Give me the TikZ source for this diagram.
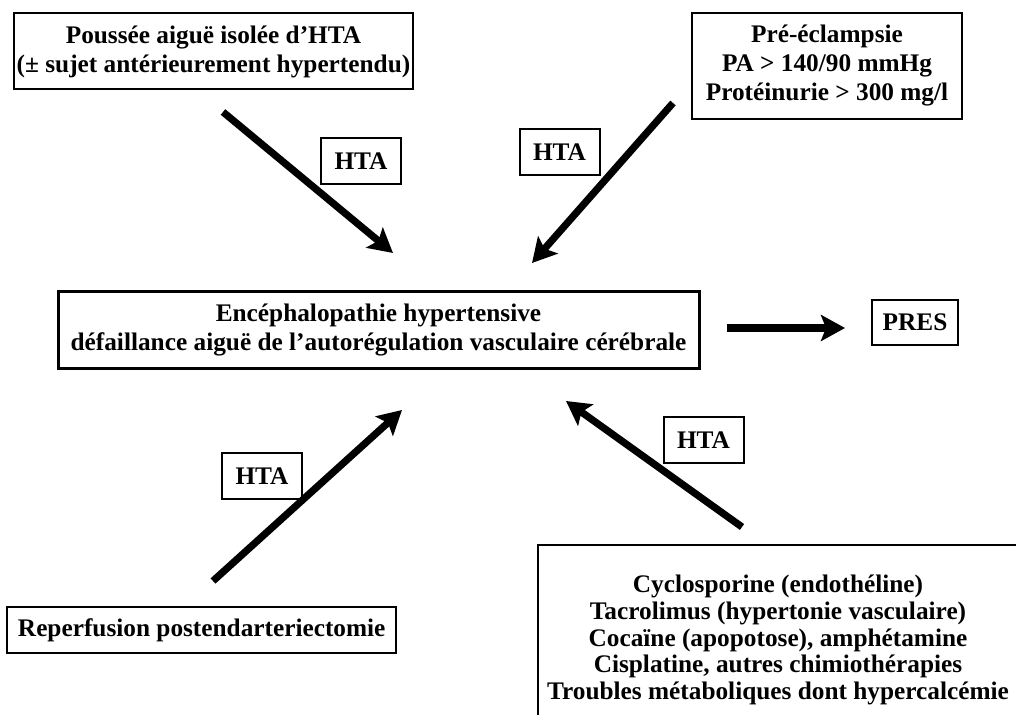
\documentclass[tikz,border=0pt]{standalone}
\usepackage{fontspec}
\setmainfont{Liberation Serif}
\usetikzlibrary{arrows.meta}
\begin{document}
\begin{tikzpicture}[x=0.5pt,y=-0.5pt,
  box/.style={draw,line width=1pt,inner sep=0pt,align=center,
    font=\bfseries\fontsize{12.65}{14.5}\selectfont},
  tightbox/.style={box,font=\bfseries\fontsize{12.65}{13.35}\selectfont},
  bigarrow/.style={line width=3.6pt,-{Stealth[length=12pt,width=13pt,inset=2.5pt]}}]
\clip (0,0) rectangle (1016,715);
\fill[white] (0,0) rectangle (1016,715);

% boxes
\node[box,minimum width=199.5pt,minimum height=38pt] (htaisol) at (213.5,51.5)
  {Poussée aiguë isolée d’HTA\\(± sujet antérieurement hypertendu)};
\node[box,minimum width=135pt,minimum height=53pt] (preecl) at (827,66)
  {Pré-éclampsie\\PA > 140/90 mmHg\\Protéinurie > 300 mg/l};
\node[box,line width=1.5pt,minimum width=320.5pt,minimum height=38.5pt] (enceph) at (378.5,330.5)
  {Encéphalopathie hypertensive\\défaillance aiguë de l’autorégulation vasculaire cérébrale};
\node[box,minimum width=43pt,minimum height=22.5pt] (pres) at (915,322.5) {PRES};
\node[box,anchor=west,inner xsep=5.5pt,minimum height=23pt] (reperf) at (6,630)
  {Reperfusion postendarteriectomie};
\node[tightbox,minimum width=240pt,minimum height=95.5pt] (drugs) at (778,640)
  {Cyclosporine (endothéline)\\Tacrolimus (hypertonie vasculaire)\\Cocaïne (apopotose), amphétamine\\Cisplatine, autres chimiothérapies\\Troubles métaboliques dont hypercalcémie};

% HTA labels
\node[box,minimum width=40pt,minimum height=23pt] (hta1) at (361,161) {HTA};
\node[box,minimum width=40pt,minimum height=23pt] (hta2) at (559.5,152) {HTA};
\node[box,minimum width=40pt,minimum height=23pt] (hta3) at (262,476) {HTA};
\node[box,minimum width=40pt,minimum height=23pt] (hta4) at (703.5,440) {HTA};

% arrow end points
\coordinate (a1s) at (223,112);
\coordinate (a1e) at (393,253);
\coordinate (a2s) at (673,103);
\coordinate (a2e) at (532,263);
\coordinate (a3s) at (213,581);
\coordinate (a3e) at (402,410);
\coordinate (a4s) at (742,527);
\coordinate (a4e) at (566,401);
\coordinate (a5s) at (727,328);
\coordinate (a5e) at (845,328);

\draw[bigarrow] (a1s) -- (a1e);
\draw[bigarrow] (a2s) -- (a2e);
\draw[bigarrow] (a3s) -- (a3e);
\draw[bigarrow] (a4s) -- (a4e);
\draw[bigarrow] (a5s) -- (a5e);
\end{tikzpicture}
\end{document}
